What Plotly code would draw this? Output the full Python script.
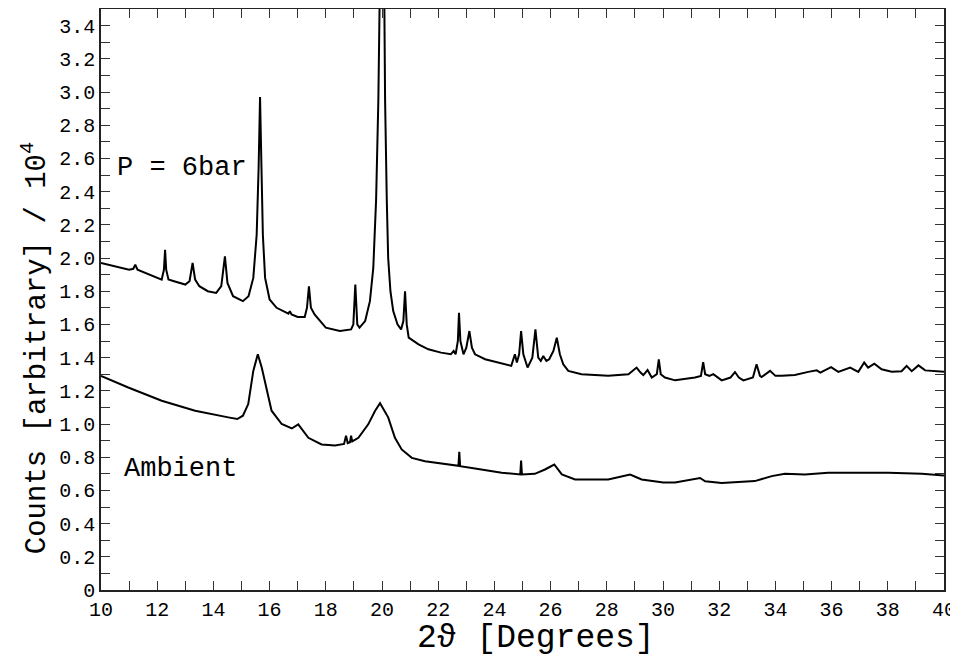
import plotly.graph_objects as go

# P = 6bar pattern (2theta in degrees, counts / 1e4)
p6_x = [10.00, 10.5, 11.0, 11.15, 11.22, 11.3, 11.6, 12.0, 12.16, 12.24, 12.28, 12.32, 12.4, 12.6,
        13.0, 13.15, 13.26, 13.35, 13.5, 13.8, 14.1, 14.28, 14.41, 14.5, 14.7, 15.05, 15.25, 15.42,
        15.54, 15.61, 15.66, 15.71, 15.76, 15.84, 16.0, 16.25, 16.5, 16.67, 16.72, 16.78, 17.0, 17.25,
        17.33, 17.40, 17.47, 17.6, 18.0, 18.5, 18.9, 18.98, 19.05, 19.12, 19.2, 19.4, 19.57, 19.69,
        19.79, 19.87, 19.92, 20.0, 20.08, 20.11, 20.17, 20.22, 20.30, 20.40, 20.55, 20.68, 20.76,
        20.82, 20.88, 20.95, 21.3, 21.65, 22.1, 22.45, 22.55, 22.62, 22.70, 22.74, 22.79, 22.90, 23.0,
        23.11, 23.2, 23.31, 23.67, 24.13, 24.6, 24.73, 24.80, 24.88, 24.95, 25.03, 25.18, 25.35, 25.46,
        25.56, 25.65, 25.74, 25.85, 25.95, 26.1, 26.22, 26.33, 26.45, 26.63, 27.1, 28.05, 28.77, 29.06,
        29.2, 29.30, 29.45, 29.6, 29.78, 29.85, 29.92, 30.07, 30.43, 31.14, 31.35, 31.43, 31.5, 31.65,
        31.79, 32.09, 32.4, 32.56, 32.7, 32.86, 33.2, 33.33, 33.45, 33.51, 33.81, 34.0, 34.22, 34.69,
        35.17, 35.47, 35.6, 35.98, 36.24, 36.66, 36.95, 37.16, 37.3, 37.52, 37.78, 38.14, 38.49, 38.67,
        38.85, 39.09, 39.33, 40.0]
p6_y = [1.97, 1.95, 1.93, 1.935, 1.96, 1.93, 1.91, 1.88, 1.87, 1.93, 2.05, 1.93, 1.87, 1.86,
        1.84, 1.86, 1.97, 1.87, 1.83, 1.80, 1.79, 1.83, 2.01, 1.85, 1.77, 1.74, 1.77, 1.88,
        2.14, 2.55, 2.97, 2.55, 2.14, 1.88, 1.75, 1.70, 1.68, 1.665, 1.68, 1.66, 1.645, 1.645,
        1.70, 1.83, 1.70, 1.66, 1.58, 1.56, 1.57, 1.60, 1.84, 1.60, 1.58, 1.62, 1.74, 1.94,
        2.35, 2.95, 3.6, 4.8, 3.6, 2.95, 2.35, 2.0, 1.80, 1.68, 1.60, 1.57, 1.62,
        1.80, 1.60, 1.52, 1.48, 1.45, 1.43, 1.42, 1.44, 1.42, 1.50, 1.67, 1.50, 1.42, 1.46,
        1.56, 1.46, 1.42, 1.39, 1.37, 1.35, 1.42, 1.37, 1.42, 1.56, 1.42, 1.34, 1.40, 1.57,
        1.40, 1.38, 1.41, 1.38, 1.39, 1.44, 1.52, 1.42, 1.36, 1.32, 1.30, 1.29, 1.30, 1.34,
        1.31, 1.295, 1.325, 1.28, 1.30, 1.39, 1.30, 1.28, 1.263, 1.28, 1.29, 1.373, 1.30, 1.29,
        1.30, 1.263, 1.28, 1.313, 1.28, 1.263, 1.28, 1.36, 1.29, 1.283, 1.32, 1.29, 1.29, 1.295,
        1.314, 1.323, 1.31, 1.343, 1.314, 1.34, 1.314, 1.37, 1.34, 1.363, 1.33, 1.315, 1.318, 1.35,
        1.318, 1.353, 1.323, 1.315]

# Ambient pattern
amb_x = [10.0, 10.97, 12.16, 13.35, 14.53, 14.85, 15.05, 15.24, 15.42, 15.58, 15.72, 15.90, 16.07,
         16.43, 16.79, 17.02, 17.2, 17.38, 17.85, 18.33, 18.65, 18.72, 18.78, 18.86, 18.90, 18.94,
         19.16, 19.51, 19.75, 19.93, 20.22, 20.46, 20.70, 21.06, 21.53, 22.12, 22.72, 22.75, 22.78,
         23.31, 24.26, 24.92, 24.95, 24.98, 25.44, 25.80, 26.13, 26.40, 26.87, 28.05, 28.53, 28.83,
         29.24, 30.01, 30.43, 31.32, 31.5, 32.09, 33.27, 33.87, 34.34, 35.05, 35.88, 36.83, 38.02,
         39.21, 40.0]
amb_y = [1.29, 1.22, 1.14, 1.08, 1.04, 1.03, 1.05, 1.12, 1.32, 1.42, 1.34, 1.20, 1.08,
         1.00, 0.973, 0.998, 0.96, 0.917, 0.877, 0.871, 0.88, 0.93, 0.885, 0.89, 0.93, 0.895,
         0.917, 0.998, 1.078, 1.125, 1.04, 0.917, 0.847, 0.796, 0.776, 0.76, 0.748, 0.832, 0.746,
         0.732, 0.706, 0.696, 0.78, 0.696, 0.70, 0.726, 0.756, 0.696, 0.666, 0.666, 0.686, 0.696,
         0.666, 0.648, 0.648, 0.675, 0.655, 0.645, 0.656, 0.686, 0.70, 0.696, 0.706, 0.706, 0.706,
         0.70, 0.69]

x_ticks = list(range(10, 41, 2))
x_tick_labels = [str(v) for v in x_ticks]
y_ticks = [round(0.2 * i, 1) for i in range(0, 18)]
y_tick_labels = ["0"] + [f"{v:.1f}" for v in y_ticks[1:]]

FONT = "Liberation Mono, Courier New, monospace"

fig = go.Figure()
fig.add_trace(go.Scatter(x=p6_x, y=p6_y, mode="lines", line=dict(color="black", width=2),
                         name="P = 6bar", showlegend=False, cliponaxis=True))
fig.add_trace(go.Scatter(x=amb_x, y=amb_y, mode="lines", line=dict(color="black", width=2),
                         name="Ambient", showlegend=False))

axis_common = dict(
    showgrid=False, zeroline=False, showline=True, linecolor="#222", linewidth=1.5,
    mirror="allticks", ticks="inside", ticklen=9, tickwidth=1.3, tickcolor="#333",
    tickfont=dict(family=FONT, size=20, color="black"), automargin=False,
)
fig.update_xaxes(range=[10, 40], tickvals=x_ticks, ticktext=x_tick_labels,
                 minor=dict(dtick=1, tick0=10, ticks="inside", ticklen=9, tickwidth=1.3, tickcolor="#333"),
                 **axis_common)
fig.update_yaxes(range=[0, 3.5], tickvals=y_ticks, ticktext=y_tick_labels,
                 minor=dict(dtick=0.1, tick0=0, ticks="inside", ticklen=9, tickwidth=1.3, tickcolor="#333"),
                 **axis_common)

fig.add_annotation(x=10.5, y=2.54, xref="x", yref="y", text="P = 6bar", showarrow=False,
                   xanchor="left", yanchor="middle", font=dict(family=FONT, size=27, color="black"))
fig.add_annotation(x=10.75, y=0.73, xref="x", yref="y", text="Ambient", showarrow=False,
                   xanchor="left", yanchor="middle", font=dict(family=FONT, size=27, color="black"))
fig.add_annotation(x=-0.078, y=0.4165, xref="paper", yref="paper",
                   text="Counts [arbitrary] / 10<sup>4</sup>", textangle=-90, showarrow=False,
                   xanchor="center", yanchor="middle", font=dict(family=FONT, size=29, color="black"))
fig.add_annotation(x=0.516, y=-0.083, xref="paper", yref="paper",
                   text="2ϑ [Degrees]", showarrow=False,
                   xanchor="center", yanchor="middle", font=dict(family=FONT, size=33, color="black"))

# The page body adds an 8 px offset, so the figure is sized to fill the rest of the window.
fig.update_layout(width=950, height=651, margin=dict(l=93, r=14, t=1, b=69, autoexpand=False),
                  plot_bgcolor="white", paper_bgcolor="white")

fig.write_html("out.html")
